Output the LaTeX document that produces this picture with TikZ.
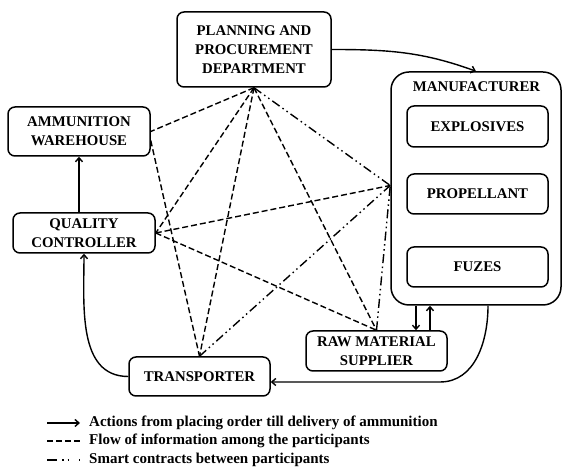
\documentclass[tikz,border=0pt]{standalone}
\usepackage{fontspec}
\setmainfont{Liberation Serif}
\usepackage{tikz}
\usetikzlibrary{arrows.meta}

\begin{document}
\begin{tikzpicture}[x=1pt,y=1pt,>={Straight Barb[length=4pt,width=7pt]},
  box/.style={draw,line width=1.5pt,rounded corners=7pt,align=center,inner sep=0pt,
    font=\fontsize{14.8}{19}\selectfont\bfseries},
  flow/.style={line width=1.4pt,->},
  info/.style={line width=1.4pt,dash pattern=on 6pt off 3pt},
  smart/.style={line width=1.4pt,dash pattern=on 9pt off 3.5pt on 1.5pt off 3.5pt on 1.5pt off 3.5pt},
  legend/.style={anchor=west,inner sep=0pt,font=\fontsize{15}{17}\selectfont\bfseries}]
  \useasboundingbox (0,0) rectangle (563,468);
  % participants
  \node[box,minimum width=154pt,minimum height=75pt] (pp) at (254,418.5) {PLANNING AND\\PROCUREMENT\\DEPARTMENT};
  \node[box,minimum width=142pt,minimum height=49pt] (aw) at (79,336.5) {AMMUNITION\\WAREHOUSE};
  \node[box,minimum width=142pt,minimum height=40pt] (qc) at (84,235) {QUALITY\\CONTROLLER};
  \node[box,minimum width=141pt,minimum height=39pt] (tp) at (199.5,91.5) {TRANSPORTER};
  \node[box,minimum width=141pt,minimum height=40pt] (rm) at (376.5,117) {RAW MATERIAL\\SUPPLIER};
  \node[box,rounded corners=18pt,minimum width=170pt,minimum height=233pt] (mf) at (476,279.5) {};
  \node[box,draw=none] (mft) at (476.5,381) {MANUFACTURER};
  \node[box,minimum width=141pt,minimum height=41pt] (ex) at (477.5,341.5) {EXPLOSIVES};
  \node[box,minimum width=141pt,minimum height=40pt] (pr) at (477.5,274) {PROPELLANT};
  \node[box,minimum width=141pt,minimum height=40pt] (fz) at (477.5,201) {FUZES};
  % actions
  \draw[flow] (pp.east) to[out=0,in=160] (mf.north);
  \draw[flow] (qc.north -| aw.south) -- (aw.south);
  \draw[flow] (tp.west) to[out=180,in=-90] (qc.south);
  \coordinate (bend) at (440,86);
  \draw[flow] ([xshift=12pt]mf.south) to[out=-90,in=0] (bend) -- (bend -| tp.east);
  \draw[flow] ([xshift=-60pt]mf.south) -- ([xshift=-60pt]mf.south |- rm.north);
  \draw[flow] ([xshift=-46pt]mf.south |- rm.north) -- ([xshift=-46pt]mf.south);
  % information
  \draw[info] (pp.south) -- (aw.east);
  \draw[info] (pp.south) -- (qc.east);
  \draw[info] (pp.south) -- (tp.north);
  \draw[info] (pp.south) -- (rm.north);
  \draw[info] (qc.east) -- ([yshift=3pt]mf.west);
  \draw[info] (qc.east) -- (rm.north);
  \draw[info] ([yshift=-9pt]aw.east) -- (tp.north);
  % smart contracts
  \draw[smart] (pp.south) -- ([yshift=3pt]mf.west);
  \draw[smart] (tp.north) -- ([yshift=3pt]mf.west);
  \draw[smart] (rm.north) -- ([yshift=3pt]mf.west);
  % legend
  \node[legend] (l1) at (89,45) {Actions from placing order till delivery of ammunition};
  \node[legend] (l2) at (89,27) {Flow of information among the participants};
  \node[legend] (l3) at (89,8) {Smart contracts between participants};
  \draw[flow] ([xshift=-42pt]l1.west) -- ([xshift=-9pt]l1.west);
  \draw[info] ([xshift=-42pt]l2.west) -- ([xshift=-9pt]l2.west);
  \draw[line width=1.4pt,dash pattern=on 10pt off 5pt on 1.5pt off 4pt on 1.5pt off 10pt] ([xshift=-42pt]l3.west) -- ([xshift=-9pt]l3.west);
\end{tikzpicture}
\end{document}
